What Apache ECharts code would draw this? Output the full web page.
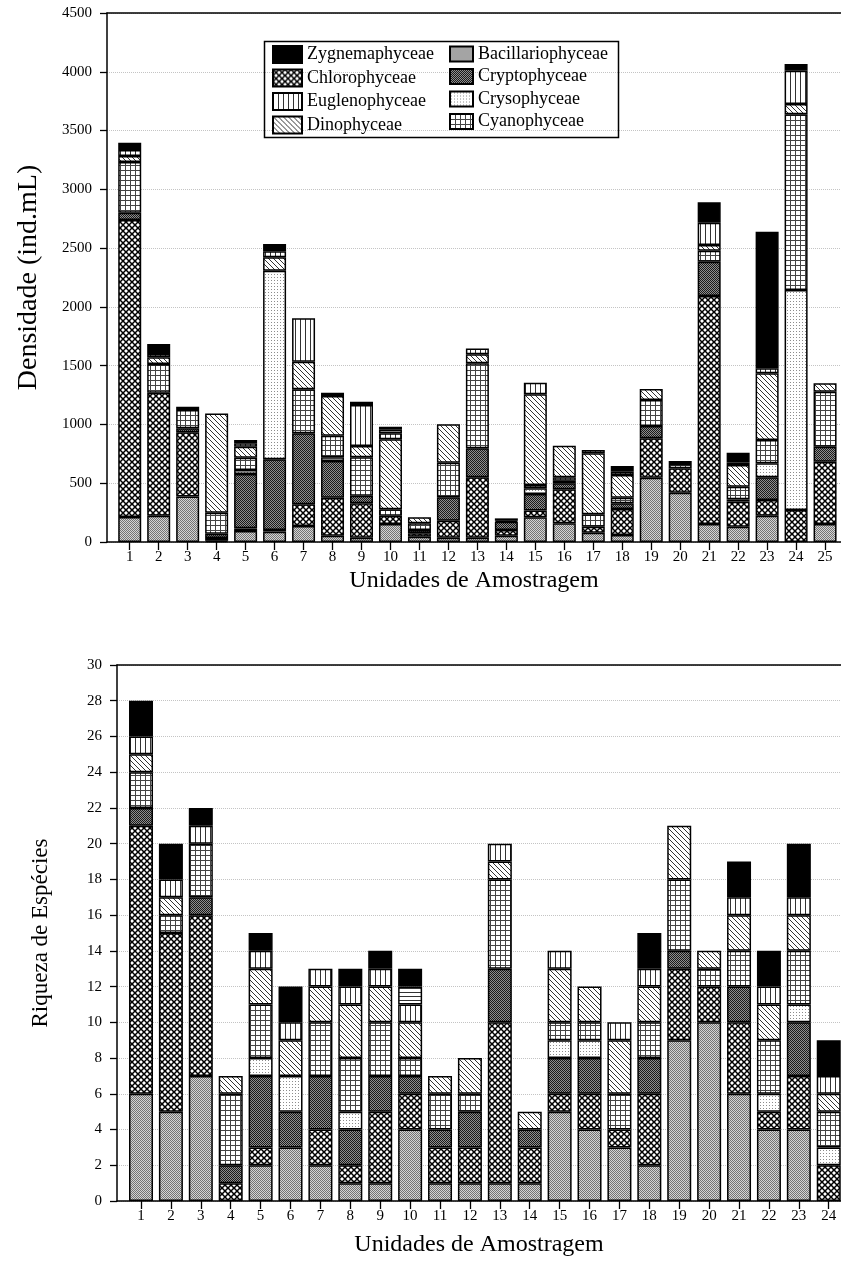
<!DOCTYPE html>
<html><head><meta charset="utf-8">
<script src="https://cdn.jsdelivr.net/npm/echarts@6/dist/echarts.min.js"></script>
<style>html,body{margin:0;padding:0;background:#fff;overflow:hidden}#c{width:841px;height:1278px}</style>
</head><body><div id="c"></div>
<script>
// ---------- data ----------
const grupos = ['Bacillariophyceae','Chlorophyceae','Cryptophyceae','Crysophyceae','Cyanophyceae','Dinophyceae','Euglenophyceae','Outras','Zygnemaphyceae'];
const unidadesDens = [1,2,3,4,5,6,7,8,9,10,11,12,13,14,15,16,17,18,19,20,21,22,23,24,25];
const unidadesRiq = [1,2,3,4,5,6,7,8,9,10,11,12,13,14,15,16,17,18,19,20,21,22,23,24];

const densBac   = [213,224,386,10,93,88,136,54,37,153,45,37,37,54,210,159,79,60,547,420,153,130,224,0,153];
const densChl   = [2526,1046,547,25,23,14,185,323,292,71,29,144,513,48,57,289,51,221,335,207,1940,213,133,272,530];
const densCry   = [62,0,34,35,462,601,604,312,65,0,28,199,247,70,141,51,0,48,105,0,291,20,193,0,128];
const densCrys  = [0,0,0,0,34,1605,0,31,0,0,0,0,0,0,49,23,0,0,0,0,0,0,119,1872,0];
const densCyano = [431,244,156,179,105,0,374,184,326,54,57,295,723,9,28,28,106,48,221,36,94,107,199,1494,468];
const densDino  = [51,57,0,845,94,114,235,338,97,596,51,326,77,20,771,269,518,193,93,26,48,185,567,88,71];
const densEugl  = [51,28,0,0,29,51,369,0,348,51,0,0,48,0,99,0,29,28,0,0,190,23,42,283,0];
const densOutras= [0,0,0,0,0,0,0,0,0,30,0,0,0,0,0,0,0,0,0,0,0,0,0,0,0];
const densZyg   = [62,85,28,0,27,62,0,28,29,26,0,0,0,0,0,0,0,48,0,0,174,82,1163,57,0];

const riqBac   = [6,5,7,0,2,3,2,1,1,4,1,1,1,1,5,4,3,2,9,10,6,4,4,0];
const riqChl   = [15,10,9,1,1,0,2,1,4,2,2,2,9,2,1,2,1,4,4,2,4,1,3,2];
const riqCry   = [1,0,1,1,4,2,3,2,2,1,1,2,3,1,2,2,0,2,1,0,2,0,3,0];
const riqCrys  = [0,0,0,0,1,2,0,1,0,0,0,0,0,0,1,1,0,0,0,0,0,1,1,1];
const riqCyano = [2,1,3,4,3,0,3,3,3,1,2,1,5,0,1,1,2,2,4,1,2,3,3,2];
const riqDino  = [1,1,0,1,2,2,2,3,2,2,1,2,1,1,3,2,3,2,3,1,2,2,2,1];
const riqEugl  = [1,1,1,0,1,1,1,1,1,1,0,0,1,0,1,0,1,1,0,0,1,1,1,1];
const riqOutras= [0,0,0,0,0,0,0,0,0,1,0,0,0,0,0,0,0,0,0,0,0,0,0,0];
const riqZyg   = [2,2,1,0,1,2,0,1,1,1,0,0,0,0,0,0,0,2,0,0,2,2,3,2];

// ---------- patterns ----------
function tile(w,h,fn){const c=document.createElement('canvas');c.width=w;c.height=h;const g=c.getContext('2d');fn(g);return {image:c,repeat:'repeat'};}
function px(g,col,pts){g.fillStyle=col;pts.forEach(p=>g.fillRect(p[0],p[1],1,1));}
const pat = {
  Bacillariophyceae: tile(2,2,g=>{g.fillStyle='#d4d4d4';g.fillRect(0,0,2,2);px(g,'#747474',[[0,0],[1,1]]);}),
  Chlorophyceae: tile(6,6,g=>{g.fillStyle='#fff';g.fillRect(0,0,6,6);g.strokeStyle='#000';g.lineWidth=1.5;g.beginPath();g.moveTo(-1,-1);g.lineTo(7,7);g.moveTo(7,-1);g.lineTo(-1,7);g.stroke();}),
  Cryptophyceae: tile(2,2,g=>{g.fillStyle='#8e8e8e';g.fillRect(0,0,2,2);px(g,'#1a1a1a',[[0,0],[1,1]]);}),
  Crysophyceae: tile(3,3,g=>{g.fillStyle='#fff';g.fillRect(0,0,3,3);px(g,'#8c8c8c',[[1,1]]);}),
  Cyanophyceae: tile(5,5,g=>{g.fillStyle='#fff';g.fillRect(0,0,5,5);g.fillStyle='#444';g.fillRect(0,0,5,1);g.fillRect(0,0,1,5);}),
  Dinophyceae: tile(5,5,g=>{g.fillStyle='#fff';g.fillRect(0,0,5,5);px(g,'#333',[[0,0],[1,1],[2,2],[3,3],[4,4]]);}),
  Euglenophyceae: tile(5,1,g=>{g.fillStyle='#fff';g.fillRect(0,0,5,1);px(g,'#333',[[0,0]]);}),
  Outras: tile(1,4,g=>{g.fillStyle='#fff';g.fillRect(0,0,1,4);px(g,'#333',[[0,0]]);}),
  Zygnemaphyceae: '#000'
};

const FONT = 'Liberation Serif';
const densVals = [densBac,densChl,densCry,densCrys,densCyano,densDino,densEugl,densOutras,densZyg];
const riqVals  = [riqBac,riqChl,riqCry,riqCrys,riqCyano,riqDino,riqEugl,riqOutras,riqZyg];

function mk(name, xs, vs, xi, yi, bw){
  return {
    type:'bar', name, stack:'s'+yi, xAxisIndex:xi, yAxisIndex:yi, barWidth:bw,
    encode:{x:1,y:0},
    data: xs.map((x,i)=>[vs[i]===0?'-':vs[i], x]),
    itemStyle:{color:pat[name], borderColor:'#000', borderWidth:1.5},
    emphasis:{disabled:true}, silent:true
  };
}
const series = [];
grupos.forEach((g,k)=>series.push(mk(g, unidadesDens, densVals[k], 0, 0, 23)));
grupos.forEach((g,k)=>series.push(mk(g, unidadesRiq, riqVals[k], 2, 1, 24)));

const axisLine = {show:true, lineStyle:{color:'#000', width:1.5}};
const lbl = {color:'#000', fontFamily:FONT, fontSize:15, formatter:v=>String(v)};
function xBottom(grid, min, max, ticks, gap){
  return {type:'value', gridIndex:grid, min, max, position:'bottom',
    axisLine, axisTick:{show:true, length:8, inside:false, lineStyle:{color:'#000',width:1.3}, customValues:ticks},
    axisLabel:Object.assign({margin:8, customValues:ticks}, lbl),
    splitLine:{show:false},
    name:'Unidades de Amostragem', nameLocation:'middle', nameGap:gap,
    nameTextStyle:{color:'#000', fontFamily:FONT, fontSize:24}};
}
function xTop(grid, min, max){
  return {type:'value', gridIndex:grid, min, max, position:'top', axisLine,
    axisTick:{show:false}, axisLabel:{show:false}, splitLine:{show:false}};
}

const option = {
  animation:false,
  backgroundColor:'#fff',
  grid:[
    {left:107, top:13, width:734, height:529},
    {left:117, top:665, width:724, height:536}
  ],
  xAxis:[
    xBottom(0, 0.216, 25.55, unidadesDens, 27),
    xTop(0, 0.216, 25.55),
    xBottom(1, 0.197, 24.41, unidadesRiq, 32),
    xTop(1, 0.197, 24.41)
  ],
  yAxis:[
    {type:'value', gridIndex:0, min:0, max:4500, interval:500, axisLine,
     axisTick:{show:true, length:7, lineStyle:{color:'#000',width:1.3}},
     axisLabel:Object.assign({margin:15}, lbl),
     splitLine:{show:true, lineStyle:{type:'dotted', color:'#c4c4c4', width:1}},
     name:'Densidade (ind.mL)', nameLocation:'middle', nameGap:64,
     nameTextStyle:{color:'#000', fontFamily:FONT, fontSize:28}},
    {type:'value', gridIndex:1, min:0, max:30, interval:2, axisLine,
     axisTick:{show:true, length:7, lineStyle:{color:'#000',width:1.3}},
     axisLabel:Object.assign({margin:15}, lbl),
     splitLine:{show:true, lineStyle:{type:'dotted', color:'#c4c4c4', width:1}},
     name:'Riqueza de Espécies', nameLocation:'middle', nameGap:65,
     nameTextStyle:{color:'#000', fontFamily:FONT, fontSize:23}}
  ],
  legend:[
    {data:['Zygnemaphyceae','Chlorophyceae','Euglenophyceae','Dinophyceae'], orient:'vertical',
     left:272, top:45, itemWidth:29, itemHeight:17, itemGap:4.5, padding:0, icon:'rect', selectedMode:false,
     textStyle:{color:'#000', fontFamily:FONT, fontSize:18}},
    {data:['Bacillariophyceae','Cryptophyceae','Crysophyceae','Cyanophyceae'], orient:'vertical',
     left:449, top:45, itemWidth:23, itemHeight:15, itemGap:4.5, padding:0, icon:'rect', selectedMode:false,
     textStyle:{color:'#000', fontFamily:FONT, fontSize:18}}
  ],
  graphic:[
    {type:'rect', left:262, top:39, z:100, silent:true,
     shape:{width:354, height:96}, style:{fill:'none', stroke:'#000', lineWidth:1.5}}
  ],
  series
};
const chart = echarts.init(document.getElementById('c'), null, {renderer:'canvas'});
chart.setOption(option);
</script>
</body></html>
